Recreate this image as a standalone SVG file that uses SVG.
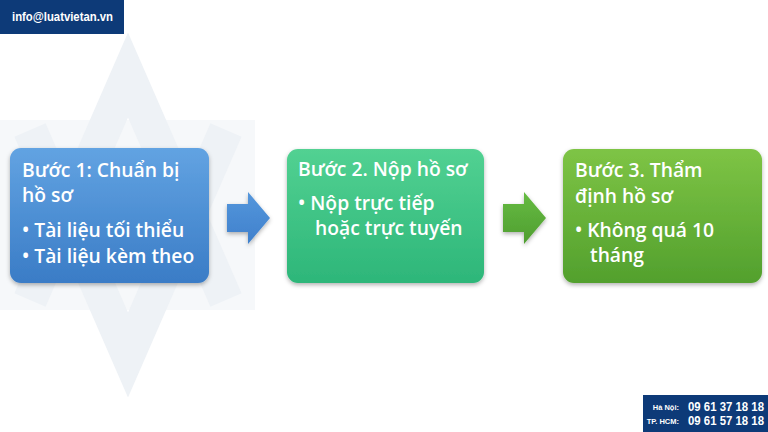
<svg xmlns="http://www.w3.org/2000/svg" width="768" height="432" viewBox="0 0 768 432">
<defs>
<linearGradient id="gBlue" x1="0" y1="0" x2="0" y2="1"><stop offset="0" stop-color="#62a3e2"/><stop offset="1" stop-color="#3a7cc6"/></linearGradient>
<linearGradient id="gTeal" x1="0" y1="0" x2="0" y2="1"><stop offset="0" stop-color="#52d192"/><stop offset="1" stop-color="#2db679"/></linearGradient>
<linearGradient id="gGreen" x1="0" y1="0" x2="0" y2="1"><stop offset="0" stop-color="#7ec445"/><stop offset="1" stop-color="#52a02d"/></linearGradient>
<linearGradient id="gArrB" x1="0" y1="0" x2="0" y2="1"><stop offset="0" stop-color="#5597dc"/><stop offset="1" stop-color="#3f80cc"/></linearGradient>
<linearGradient id="gArrG" x1="0" y1="0" x2="0" y2="1"><stop offset="0" stop-color="#66bb42"/><stop offset="1" stop-color="#4f9e30"/></linearGradient>
<filter id="sh" x="-10%" y="-10%" width="120%" height="130%"><feDropShadow dx="0" dy="2" stdDeviation="2" flood-color="#000" flood-opacity="0.3"/></filter>
</defs>
<style>
.t{font-family:"Open Sans","Noto Sans","DejaVu Sans",sans-serif;font-size:19.3px;font-weight:600;fill:#fff}
.hd{font-family:"Liberation Sans",Arial,sans-serif;font-weight:bold;fill:#fff}
</style>
<rect width="768" height="432" fill="#fff"/>
<g id="watermark">
<polygon points="0,120 255,120 255,310 0,310" fill="#f6f8fa"/>
<polyline points="30,300 128,75 226,300" fill="none" stroke="#eef2f6" stroke-width="34"/>
<polyline points="30,130 128,355 226,130" fill="none" stroke="#eef2f6" stroke-width="34"/>
</g>
<g id="header">
<rect x="0" y="0" width="124" height="34" fill="#0d3a78"/>
<text class="hd" x="12" y="21" font-size="12.5" textLength="101" lengthAdjust="spacingAndGlyphs">info@luatvietan.vn</text>
</g>
<g id="step1">
<rect x="10" y="148" width="199" height="135" rx="11" fill="url(#gBlue)" filter="url(#sh)"/>
<text class="t" x="22" y="177">Bước 1: Chuẩn bị</text>
<text class="t" x="22" y="202">hồ sơ</text>
<text class="t" x="22" y="237">• Tài liệu tối thiểu</text>
<text class="t" x="22" y="263">• Tài liệu kèm theo</text>
</g>
<g id="step2">
<rect x="287" y="149" width="197" height="134" rx="11" fill="url(#gTeal)" filter="url(#sh)"/>
<text class="t" x="298" y="176">Bước 2. Nộp hồ sơ</text>
<text class="t" x="298" y="210">• Nộp trực tiếp</text>
<text class="t" x="315" y="235">hoặc trực tuyến</text>
</g>
<g id="step3">
<rect x="563" y="149" width="199" height="134" rx="11" fill="url(#gGreen)" filter="url(#sh)"/>
<text class="t" x="575" y="177">Bước 3. Thẩm</text>
<text class="t" x="575" y="203">định hồ sơ</text>
<text class="t" x="575" y="237">• Không quá 10</text>
<text class="t" x="590" y="262">tháng</text>
</g>
<g id="connectors">
<polygon points="227,204 248,204 248,192 270,218 248,244 248,232 227,232" fill="url(#gArrB)" filter="url(#sh)"/>
<polygon points="503,204 524,204 524,192 546,218 524,244 524,232 503,232" fill="url(#gArrG)" filter="url(#sh)"/>
</g>
<g id="contact">
<rect x="643" y="395" width="125" height="37" fill="#0d3a78"/>
<text class="hd" x="679" y="410" font-size="7.5" text-anchor="end">Hà Nội:</text>
<text class="hd" x="679" y="424" font-size="7.5" text-anchor="end">TP. HCM:</text>
<text class="hd" x="688" y="411" font-size="12" textLength="76" lengthAdjust="spacingAndGlyphs">09 61 37 18 18</text>
<text class="hd" x="688" y="425" font-size="12" textLength="76" lengthAdjust="spacingAndGlyphs">09 61 57 18 18</text>
</g>
</svg>
